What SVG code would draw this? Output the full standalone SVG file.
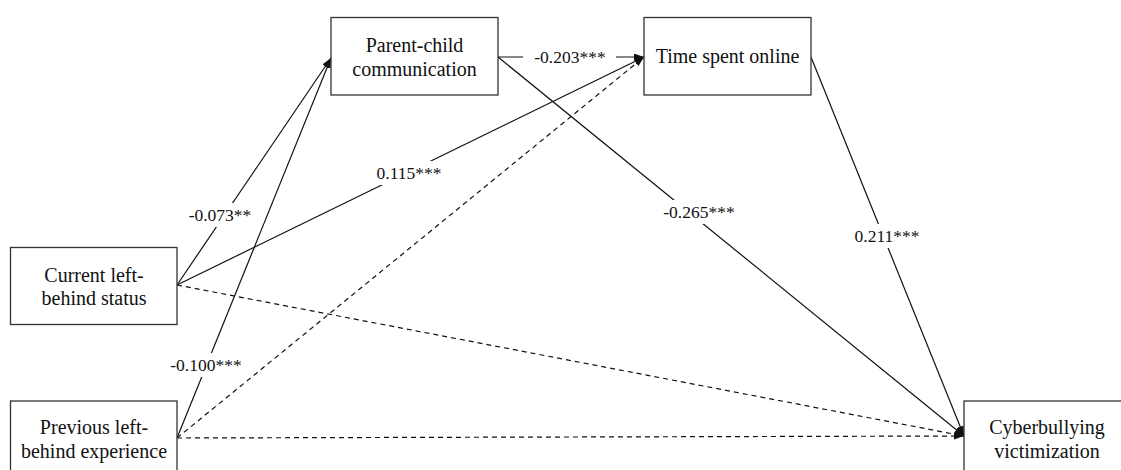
<svg xmlns="http://www.w3.org/2000/svg" width="1121" height="470" viewBox="0 0 1121 470">
<style>
.box{fill:#fff;stroke:#333;stroke-width:1.3}
.nt{font-family:'Liberation Serif',serif;font-size:20px;fill:#111;text-anchor:middle}
.lt{font-family:'Liberation Serif',serif;font-size:17.5px;fill:#111;text-anchor:middle}
.ln{stroke:#111;stroke-width:1.2;fill:none;marker-end:url(#ah)}
.dash{stroke-dasharray:5 4}
.bg{fill:#fff}
</style>
<defs>
<marker id="ah" markerUnits="userSpaceOnUse" markerWidth="11" markerHeight="8" refX="10" refY="3.5" orient="auto">
<path d="M0,0 L10,3.5 L0,7 z" fill="#111"/>
</marker>
</defs>
<rect width="1121" height="470" fill="#fff"/>
<g id="connectors">
<line class="ln" x1="177" y1="285" x2="331" y2="58"/>
<line class="ln" x1="177" y1="438" x2="331" y2="58"/>
<line class="ln" x1="177" y1="285" x2="644" y2="57"/>
<line class="ln dash" x1="177" y1="438" x2="644" y2="57"/>
<line class="ln" x1="498" y1="57" x2="644" y2="57"/>
<line class="ln" x1="498" y1="57" x2="964" y2="436"/>
<line class="ln" x1="811" y1="57" x2="964" y2="436"/>
<line class="ln dash" x1="177" y1="285" x2="964" y2="436"/>
<line class="ln dash" x1="177" y1="438" x2="964" y2="436"/>
<rect class="bg" x="186" y="203" width="69" height="24"/>
<text class="lt" x="220" y="221">-0.073**</text>
<rect class="bg" x="374" y="161" width="70" height="24"/>
<text class="lt" x="409" y="179">0.115***</text>
<rect class="bg" x="167" y="353" width="78" height="24"/>
<text class="lt" x="206" y="371">-0.100***</text>
<rect class="bg" x="523" y="45" width="93" height="24"/>
<text class="lt" x="570" y="63">-0.203***</text>
<rect class="bg" x="661" y="200" width="77" height="24"/>
<text class="lt" x="699" y="218">-0.265***</text>
<rect class="bg" x="852" y="224" width="70" height="24"/>
<text class="lt" x="887" y="242">0.211***</text>
</g>
<g id="node-pcc">
<rect class="box" x="331" y="17.5" width="167" height="77.5"/>
<text class="nt" x="414.5" y="52">Parent-child</text>
<text class="nt" x="414.5" y="76">communication</text>
</g>
<g id="node-tso">
<rect class="box" x="644" y="17.5" width="167" height="77.5"/>
<text class="nt" x="727.5" y="63">Time spent online</text>
</g>
<g id="node-current">
<rect class="box" x="10.5" y="247.5" width="166.5" height="77"/>
<text class="nt" x="94" y="282">Current left-</text>
<text class="nt" x="94" y="305">behind status</text>
</g>
<g id="node-previous">
<rect class="box" x="10.5" y="401" width="166.5" height="80"/>
<text class="nt" x="94" y="434">Previous left-</text>
<text class="nt" x="94" y="458">behind experience</text>
</g>
<g id="node-cyber">
<rect class="box" x="964" y="401" width="170" height="80"/>
<text class="nt" x="1047" y="434">Cyberbullying</text>
<text class="nt" x="1047" y="458">victimization</text>
</g>
</svg>
